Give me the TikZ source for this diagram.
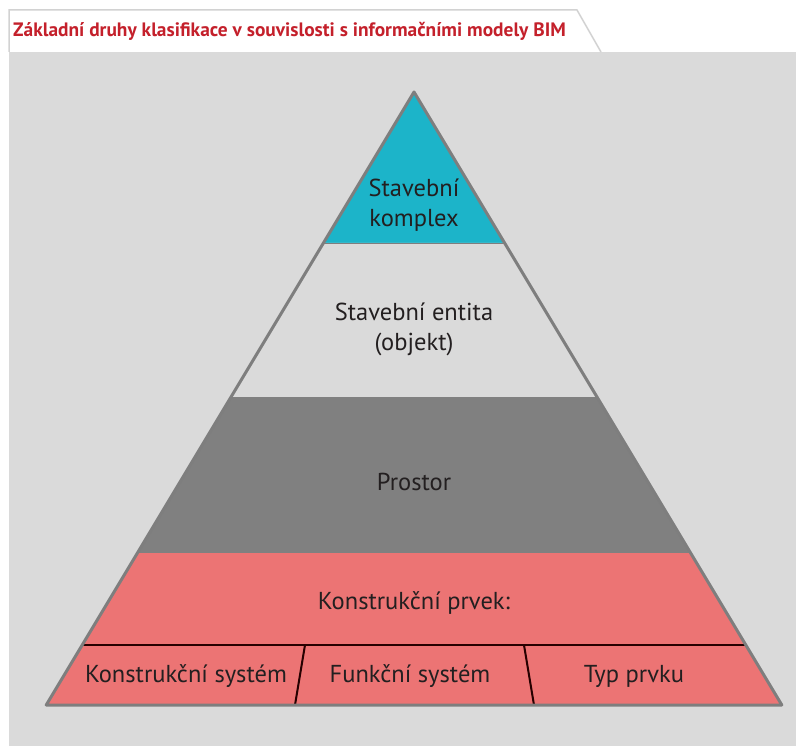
\documentclass[tikz,border=0pt]{standalone}
\usepackage{fontspec}
\setmainfont{PT Sans}
\usepackage{tikz}
\usetikzlibrary{positioning, calc}

\definecolor{panelgray}{HTML}{DADADA}
\definecolor{tabline}{HTML}{D2D2D2}
\definecolor{titlered}{HTML}{C4202B}
\definecolor{komplexcyan}{HTML}{1CB4C9}
\definecolor{prostorgray}{HTML}{808080}
\definecolor{prvekpink}{HTML}{EC7474}
\definecolor{edgegray}{HTML}{7E7E7E}
\definecolor{labeltext}{HTML}{231F20}

\tikzset{
    level/.style={font=\fontsize{24.5}{30}\selectfont, text=labeltext, align=center, inner sep=0pt},
    sublevel/.style={level},
    divider/.style={draw=black!85!red, line width=2pt},
}

\begin{document}
\begin{tikzpicture}[x=1pt, y=-1pt]
    \useasboundingbox (0,0) rectangle (796,746);
    
    % Define background
    \fill[panelgray] (9,52) rectangle (796,746);
    \draw[tabline, fill=white, line width=1.5pt] (9,52) -- (9,10) -- (577,10) -- (601,52);
    \node[anchor=west, inner sep=0pt, text=titlered, font=\fontsize{19.4}{22}\selectfont\bfseries] (title) at (13,31) {Základní druhy klasifikace v souvislosti s informačními modely BIM};
    
    % Define corners
    \coordinate (top) at (414,92);
    \coordinate (c1l) at (323.4,243);  \coordinate (c1r) at (504.6,243);
    \coordinate (c2l) at (231,397);    \coordinate (c2r) at (597,397);
    \coordinate (c3l) at (137.4,553);  \coordinate (c3r) at (690.6,553);
    \coordinate (c4l) at (82.2,645);   \coordinate (c4r) at (745.8,645);
    \coordinate (bl) at (46.2,705);    \coordinate (br) at (781.8,705);
    \coordinate (d1t) at (305,645);    \coordinate (d1b) at (295,705);
    \coordinate (d2t) at (524,645);    \coordinate (d2b) at (534,705);
    
    % Fill levels
    \fill[komplexcyan] (top) -- (c1r) -- (c1l) -- cycle;
    \fill[panelgray] (c1l) -- (c1r) -- (c2r) -- (c2l) -- cycle;
    \fill[prostorgray] (c2l) -- (c2r) -- (c3r) -- (c3l) -- cycle;
    \fill[prvekpink] (c3l) -- (c3r) -- (br) -- (bl) -- cycle;
    \draw[edgegray, line width=0.8pt] (c1l) -- (c1r);
    
    % Connect dividers
    \draw[divider] (c4l) -- (c4r);
    \draw[divider] (d1t) -- (d1b);
    \draw[divider] (d2t) -- (d2b);
    \draw[edgegray, line width=3pt, line join=round] (top) -- (br) -- (bl) -- cycle;
    
    % Define labels
    \node[level] (komplex) at (414,205) {Stavební\\komplex};
    \node[level] (entita) at (414,329) {Stavební entita\\(objekt)};
    \node[level] (prostor) at (414,482) {Prostor};
    \node[level] (prvek) at (414,603) {Konstrukční prvek:};
    \node[sublevel] (ksystem) at (186,676) {Konstrukční systém};
    \node[sublevel] (fsystem) at (410,676) {Funkční systém};
    \node[sublevel] (typ) at (634,676) {Typ prvku};
\end{tikzpicture}
\end{document}
